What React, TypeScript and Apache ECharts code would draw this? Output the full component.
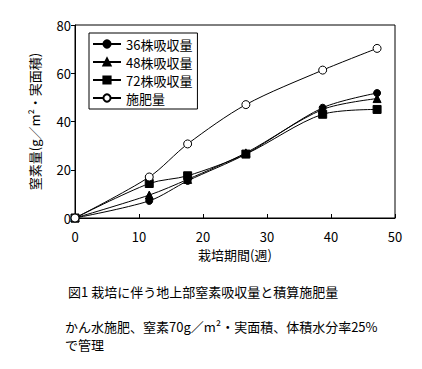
import React, { useEffect, useRef } from "react";
import * as echarts from "echarts";

const weeks = [0, 11.6, 17.6, 26.7, 38.7, 47.2];
const uptake36 = [0, 7.1, 15.4, 26.5, 45.7, 51.8];
const uptake48 = [0, 9.5, 16.0, 27.0, 45.0, 49.5];
const uptake72 = [0, 14.3, 17.5, 26.5, 43.0, 45.0];
const fertilizer = [0, 17.0, 30.7, 47.0, 61.3, 70.3];

const seriesNames = ["36株吸収量", "48株吸収量", "72株吸収量", "施肥量"];
const yAxisTitle = "窒素量(g／m²・実面積)";
const xAxisTitle = "栽培期間(週)";
const captionTitle = "図1 栽培に伴う地上部窒素吸収量と積算施肥量";
const captionLine1 = "かん水施肥、窒素70g／m²・実面積、体積水分率25%";
const captionLine2 = "で管理";

const FONT = "'Noto Sans CJK JP', 'Noto Sans', sans-serif";

const pairs = (ys: number[]) => weeks.map((w, i) => [w, ys[i]]);

export default function App() {
  const ref = useRef<HTMLDivElement>(null);
  useEffect(() => {
    if (!ref.current) return;
    const chart = echarts.init(ref.current, undefined, { renderer: "svg" });
    const mk = (name: string, ys: number[], symbol: string, size: number, fill: string) => ({
      name,
      type: "line",
      data: pairs(ys),
      smooth: 0.3,
      symbol,
      symbolSize: size,
      showAllSymbol: true,
      lineStyle: { color: "#000", width: 1 },
      itemStyle: { color: fill, borderColor: "#000", borderWidth: 1 },
    });
    chart.setOption({
      animation: false,
      backgroundColor: "#fff",
      textStyle: { fontFamily: FONT, color: "#000" },
      grid: { left: 75, top: 25, right: 27, bottom: 151, show: true, borderColor: "#000", borderWidth: 1, containLabel: false },
      legend: {
        orient: "vertical",
        left: 89,
        top: 33,
        padding: [4, 5, 4, 3],
        itemGap: 4,
        itemWidth: 28,
        itemHeight: 9,
        borderColor: "#000",
        borderWidth: 1,
        backgroundColor: "#fff",
        textStyle: { fontFamily: FONT, fontSize: 13, lineHeight: 14, color: "#000" },
        data: seriesNames,
      },
      xAxis: {
        type: "value",
        min: 0,
        max: 50,
        interval: 10,
        name: xAxisTitle,
        nameLocation: "middle",
        nameGap: 30,
        nameTextStyle: { fontFamily: FONT, fontSize: 13, color: "#000" },
        axisLine: { lineStyle: { color: "#000", width: 1 } },
        axisTick: { inside: true, length: 4, lineStyle: { color: "#000" } },
        axisLabel: { fontFamily: FONT, fontSize: 13, color: "#000", margin: 12 },
        splitLine: { show: false },
      },
      yAxis: {
        type: "value",
        min: 0,
        max: 80,
        interval: 20,
        name: yAxisTitle,
        nameLocation: "middle",
        nameGap: 34,
        nameRotate: 90,
        nameTextStyle: { fontFamily: FONT, fontSize: 13, color: "#000" },
        axisLine: { lineStyle: { color: "#000", width: 1 } },
        axisTick: { inside: false, length: 4, lineStyle: { color: "#000" } },
        axisLabel: { fontFamily: FONT, fontSize: 13, color: "#000", margin: 4 },
        splitLine: { show: false },
      },
      series: [
        mk(seriesNames[0], uptake36, "circle", 7, "#000"),
        mk(seriesNames[1], uptake48, "triangle", 8, "#000"),
        mk(seriesNames[2], uptake72, "rect", 8, "#000"),
        mk(seriesNames[3], fertilizer, "circle", 8, "#fff"),
      ],
      graphic: [
        { type: "text", left: 68, top: 285, style: { text: captionTitle, font: `13px ${FONT}`, fill: "#000" } },
        { type: "text", left: 65, top: 320, style: { text: captionLine1, font: `13px ${FONT}`, fill: "#000" } },
        { type: "text", left: 65, top: 338, style: { text: captionLine2, font: `13px ${FONT}`, fill: "#000" } },
      ],
    });
    return () => chart.dispose();
  }, []);
  return <div ref={ref} style={{ position: "absolute", left: 0, top: 0, width: 422, height: 369 }} />;
}
